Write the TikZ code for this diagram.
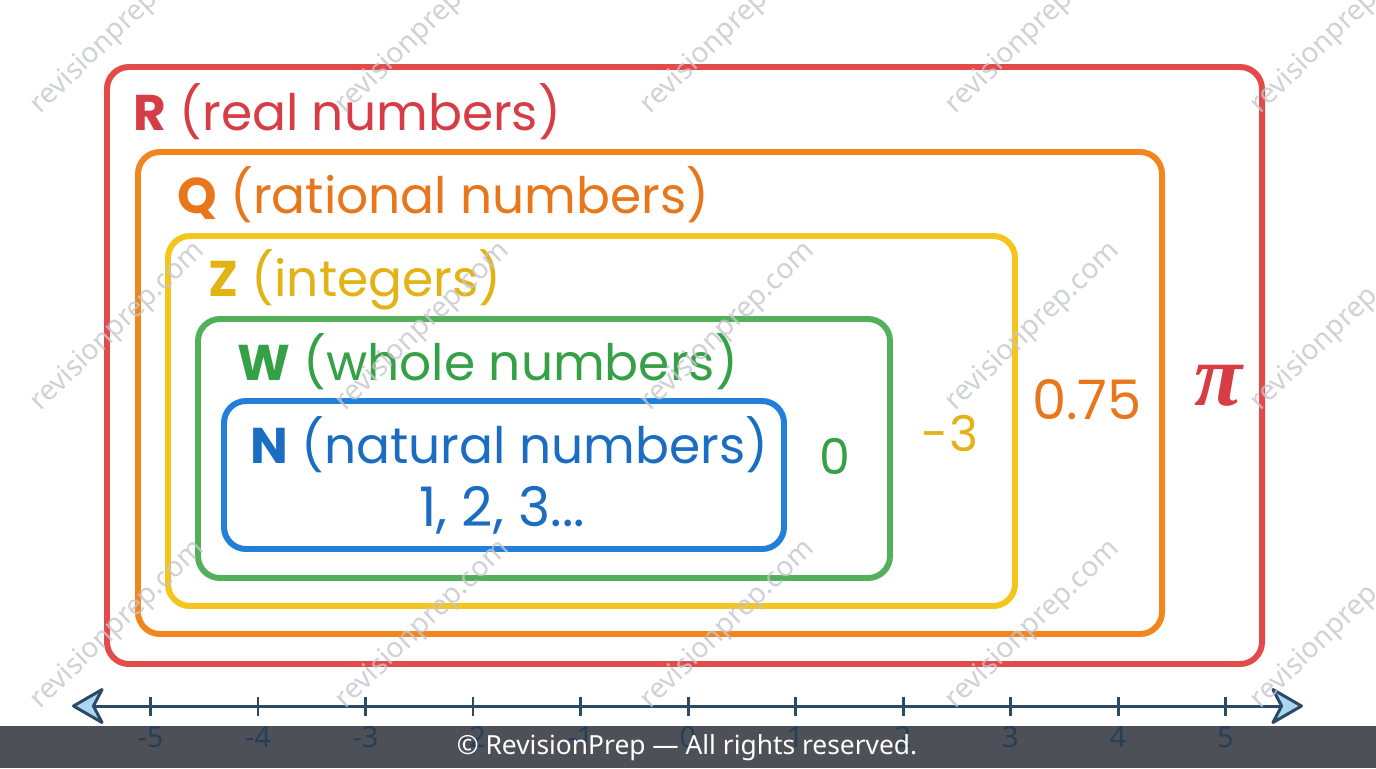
\documentclass[tikz,border=0pt]{standalone}
\usepackage{fontspec}
\setmainfont{Poppins}
\newfontfamily\notefont{Noto Sans}
\newfontfamily\pifont{Liberation Serif}
\usepackage{tikz}
\usetikzlibrary{arrows.meta}
\definecolor{realred}{HTML}{E34B4A}
\definecolor{realtext}{HTML}{D63D45}
\definecolor{ratorange}{HTML}{F1861C}
\definecolor{rattext}{HTML}{E8771B}
\definecolor{intyellow}{HTML}{F3C51D}
\definecolor{inttext}{HTML}{E3B214}
\definecolor{wholegreen}{HTML}{52B05A}
\definecolor{wholetext}{HTML}{35A046}
\definecolor{natblue}{HTML}{2280D8}
\definecolor{nattext}{HTML}{1B6DC1}
\definecolor{lineblue}{HTML}{2A4A66}
\definecolor{tipblue}{HTML}{AAD6F0}
\definecolor{footgray}{HTML}{4E5058}
\definecolor{markgray}{HTML}{C4C6CC}
\tikzstyle{setbox} = [line width=3.4pt, rounded corners=12.5pt]
\tikzstyle{setlabel} = [anchor=west, inner sep=0pt, font=\fontsize{28.6}{32}\selectfont]
\tikzstyle{member} = [inner sep=0pt, font=\fontsize{28}{30}\selectfont]
\tikzstyle{ticklabel} = [inner sep=0pt, text=lineblue!85!black, font=\notefont\fontsize{16.5}{18}\selectfont]
\tikzstyle{watermark} = [inner sep=0pt, rotate=44, text=markgray, text opacity=0.8, font=\notefont\fontsize{16}{18}\selectfont]
\tikzstyle{numline} = [line width=1.7pt, draw=lineblue]
\begin{document}
\begin{tikzpicture}[x=0.02cm, y=-0.02cm]
  \useasboundingbox (0,0) rectangle (1376,768);
  % nested sets
  \draw[setbox, draw=realred] (107,67) rectangle (1262,664);
  \draw[setbox, draw=ratorange] (138,152) rectangle (1162,634);
  \draw[setbox, draw=intyellow] (168,236) rectangle (1015,606);
  \draw[setbox, draw=wholegreen] (198,319) rectangle (890,578);
  \draw[setbox, draw=natblue] (224,401) rectangle (784,549);
  % set names
  \node[setlabel, text=realtext] (realname) at (133,112) {\textbf{R} (real numbers)};
  \node[setlabel, text=rattext] (ratname) at (177,195) {\textbf{Q} (rational numbers)};
  \node[setlabel, text=inttext] (intname) at (208,280) {\textbf{Z} (integers)};
  \node[setlabel, text=wholetext] (wholename) at (237,362) {\textbf{W} (whole numbers)};
  \node[setlabel, text=nattext] (natname) at (250,445) {\textbf{N} (natural numbers)};
  \node[member, text=nattext, font=\fontsize{31}{34}\selectfont] (natlist) at (502,510) {1, 2, 3...};
  % one member of each ring
  \node[member, text=wholetext] (zero) at (835,456) {0};
  \node[member, text=inttext] (minusthree) at (950,433) {-3};
  \node[member, text=rattext, font=\fontsize{31}{34}\selectfont] (quarter) at (1087,400) {0.75};
  \node[member, text=realtext, font=\pifont\bfseries\itshape\fontsize{50}{50}\selectfont] (pi) at (1218,386) {π};
  % number line
  \coordinate (lineL) at (72,706);
  \coordinate (lineR) at (1303,706);
  \draw[numline, {Stealth[length=20pt, width=23pt, inset=6pt, fill=tipblue, round]}-{Stealth[length=20pt, width=23pt, inset=6pt, fill=tipblue, round]}] (lineL) -- (lineR);
  \foreach \n in {-5,...,5}
    \draw[numline] (688+107.5*\n,697) -- (688+107.5*\n,716);
  % watermarks
  \foreach \col in {0,...,4}
    \foreach \row/\yy in {0/30,1/327,2/625}
      \node[watermark] (mark\col\row) at (118+305*\col,\yy) {revisionprep.com};
  % footer
  \fill[footgray] (0,726) rectangle (1376,768);
  \foreach \n in {-5,...,5}
    \node[ticklabel] (tick\n) at (688+107.5*\n,737) {\n};
  \node[inner sep=0pt, text=white, font=\notefont\fontsize{15}{17}\selectfont] (footer) at (687,748) {© RevisionPrep — All rights reserved.};
\end{tikzpicture}
\end{document}
